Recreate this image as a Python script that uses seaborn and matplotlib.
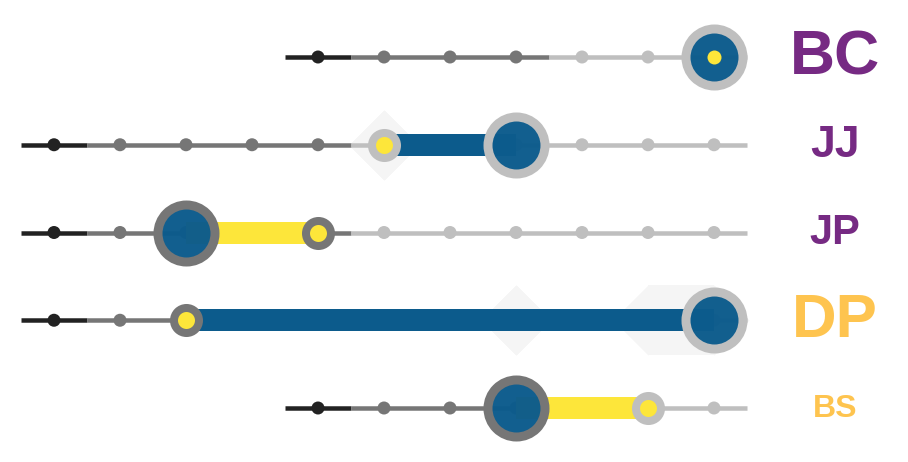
import matplotlib
matplotlib.use("Agg")
import matplotlib.pyplot as plt
import seaborn as sns
import pandas as pd
from matplotlib.path import Path

# ---------------- data ----------------
labels = ["BC", "JJ", "JP", "DP", "BS"]
n_steps = 11                      # positions 0..10
start = [4, 0, 0, 0, 4]           # first position of each track
gray_end = [7, 4, 4, 7, 7]        # last position of the "past" (gray) zone
big = [10, 7, 2, 10, 7]           # big blue circle position
small = [10, 5, 4, 2, 9]          # small yellow circle position
shade_ranges = [[], [(5, 5)], [], [(7, 7), (9, 10)], []]
label_colors = ["#762a83", "#762a83", "#762a83", "#fec44f", "#fec44f"]
label_sizes = [45, 32, 30, 44.5, 23]

# ---------------- style ----------------
DARK, GRAY, LIGHT = "#222222", "#767676", "#bfbfbf"
BLUE, YELLOW, SHADE = "#0c5b8c", "#fde63a", "#f5f5f5"
PX = 72 / 100.0  # points per pixel

sns.set_theme(style="white")
plt.rcParams["font.family"] = ["Liberation Sans", "DejaVu Sans"]

fig = plt.figure(figsize=(9.08, 4.62), dpi=100)
ax = fig.add_axes([0, 0, 1, 1])
ax.set_xlim(-54 / 66, (908 - 54) / 66)
ax.set_ylim((462 - 57) / 87.75, -57 / 87.75)
ax.axis("off")

diamond = Path([(0, 1), (1, 0), (0, -1), (-1, 0), (0, 1)],
               [Path.MOVETO, Path.LINETO, Path.LINETO, Path.LINETO, Path.CLOSEPOLY])

dot_rows = []
for r, lab in enumerate(labels):
    s, g = start[r], gray_end[r]
    # background shading diamonds / bands
    for a, b in shade_ranges[r]:
        ax.plot([a, b], [r, r], ls="none", marker=diamond, ms=70 * PX,
                mfc=SHADE, mec="none", zorder=0)
        if b > a:
            ax.plot([a, b], [r, r], color=SHADE, lw=70 * PX,
                    solid_capstyle="butt", zorder=0)
    # track segments
    ax.plot([s - 0.5, s + 0.5], [r, r], color=DARK, lw=4.5 * PX,
            solid_capstyle="butt", zorder=1)
    ax.plot([s + 0.5, g + 0.5], [r, r], color=GRAY, lw=4.5 * PX,
            solid_capstyle="butt", zorder=1)
    ax.plot([g + 0.5, n_steps - 0.5], [r, r], color=LIGHT, lw=4.5 * PX,
            solid_capstyle="butt", zorder=1)
    for i in range(s, n_steps):
        zone = "dark" if i == s else ("gray" if i <= g else "light")
        dot_rows.append({"x": i, "y": r, "zone": zone})

dots = pd.DataFrame(dot_rows)
sns.scatterplot(data=dots, x="x", y="y", hue="zone",
                palette={"dark": DARK, "gray": GRAY, "light": LIGHT},
                s=(13 * PX) ** 2, linewidth=0, legend=False, ax=ax, zorder=2)

for r, lab in enumerate(labels):
    g = gray_end[r]
    b, sm = big[r], small[r]
    ring = lambda i: GRAY if i <= g else LIGHT
    # connecting bar
    if b != sm:
        bar_color = BLUE if b > sm else YELLOW
        ax.plot([min(b, sm), max(b, sm)], [r, r], color=bar_color,
                lw=22 * PX, solid_capstyle="butt", zorder=3)
    # big circle: face + ring
    ax.plot([b], [r], marker="o", ms=50 * PX, mfc=BLUE, mec="none",
            alpha=0.975, ls="none", zorder=4)
    ax.plot([b], [r], marker="o", ms=57 * PX, mfc="none", mec=ring(b),
            mew=9 * PX, ls="none", zorder=4)
    # small circle
    if sm == b:
        ax.plot([sm], [r], marker="o", ms=14 * PX, mfc=YELLOW, mec="none",
                ls="none", zorder=5)
    else:
        ax.plot([sm], [r], marker="o", ms=25 * PX, mfc=YELLOW, mec=ring(sm),
                mew=8 * PX, ls="none", zorder=5)
    # label
    ax.annotate(lab, xy=((835 - 54) / 66, r), xytext=(0, -0.272 * label_sizes[r]),
                textcoords="offset points", ha="center", va="baseline",
                fontsize=label_sizes[r], fontweight="bold",
                color=label_colors[r], zorder=6)

fig.savefig("out.png", dpi=100)
